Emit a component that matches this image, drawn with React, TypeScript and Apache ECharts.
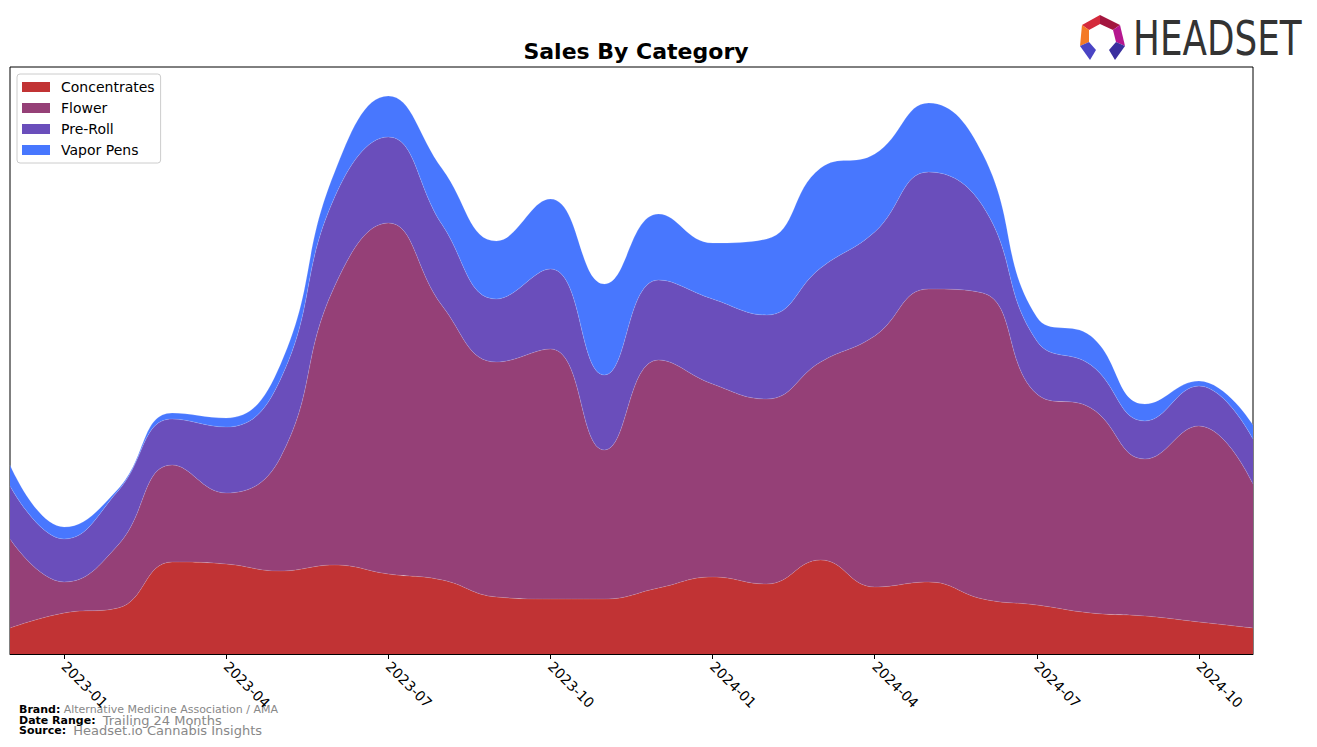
import React, { useEffect, useRef } from "react";
import * as echarts from "echarts";

const months = [
  "2022-12", "2023-01", "2023-02", "2023-03", "2023-04", "2023-05", "2023-06", "2023-07",
  "2023-08", "2023-09", "2023-10", "2023-11", "2023-12", "2024-01", "2024-02", "2024-03",
  "2024-04", "2024-05", "2024-06", "2024-07", "2024-08", "2024-09", "2024-10", "2024-11",
];
const concentrates = [26, 41, 46, 92, 90, 83, 89, 80, 74, 57, 55, 55, 66, 77, 70, 94, 67, 72, 55, 49, 41, 38, 32, 26];
const flower = [89, 31, 63, 97, 71, 113, 278, 351, 274, 235, 250, 149, 228, 193, 185, 198, 251, 293, 306, 211, 205, 157, 196, 144];
const preRoll = [53, 43, 54, 46, 66, 78, 89, 86, 81, 63, 80, 75, 80, 85, 84, 94, 104, 117, 87, 53, 43, 38, 40, 45];
const vaporPens = [21, 12, 2, 6, 9, 15, 25, 41, 56, 58, 70, 91, 66, 56, 76, 100, 78, 69, 52, 24, 29, 17, 5, 14];

const seriesNames = ["Concentrates", "Flower", "Pre-Roll", "Vapor Pens"];
const seriesColors = ["#C13334", "#954077", "#6A4EBB", "#4877FE"];
const seriesData = [concentrates, flower, preRoll, vaporPens];

const FONT = "'DejaVu Sans', sans-serif";

export default function App() {
  const ref = useRef<HTMLDivElement>(null);
  useEffect(() => {
    if (!ref.current) return;
    const chart = echarts.init(ref.current, null, { renderer: "svg" });
    const showIdx = (i: number) => i % 3 === 1;
    const footer = (y: number, label: string, value: string, vs: number) => ({
      type: "text",
      x: 19,
      y,
      style: {
        rich: {
          b: { fontFamily: FONT, fontSize: 11, fontWeight: "bold", fill: "#000" },
          v: { fontFamily: FONT, fontSize: vs, fill: "#888" },
        },
        text: `{b|${label}} {v|${value}}`,
        verticalAlign: "middle",
      },
    });
    chart.setOption({
      animation: false,
      backgroundColor: "#ffffff",
      title: {
        text: "Sales By Category",
        left: 631,
        textAlign: "center",
        top: 35,
        textStyle: { fontFamily: FONT, fontSize: 22, fontWeight: "bold", color: "#000" },
      },
      legend: {
        orient: "vertical",
        left: 17,
        top: 74,
        padding: [5, 6, 5, 5],
        itemGap: 5,
        itemWidth: 28,
        itemHeight: 10,
        icon: "rect",
        backgroundColor: "#fff",
        borderColor: "#cccccc",
        borderWidth: 1,
        borderRadius: 3,
        textStyle: { fontFamily: FONT, fontSize: 14, color: "#000", padding: [0, 0, 0, 6], lineHeight: 16 },
        data: seriesNames,
      },
      grid: {
        left: 10,
        top: 67,
        width: 1243,
        height: 587,
        show: true,
        borderColor: "#000",
        borderWidth: 1,
        backgroundColor: "transparent",
      },
      xAxis: {
        type: "category",
        data: months,
        boundaryGap: false,
        axisLine: { show: true, lineStyle: { color: "#000", width: 1 } },
        axisTick: { show: true, interval: (i: number) => showIdx(i), length: 5, lineStyle: { color: "#000" } },
        axisLabel: {
          interval: (i: number) => showIdx(i),
          rotate: -45,
          margin: 10,
          fontFamily: FONT,
          fontSize: 14,
          color: "#000",
        },
        splitLine: { show: false },
      },
      yAxis: {
        type: "value",
        min: 0,
        max: 587,
        show: false,
        splitLine: { show: false },
      },
      series: seriesNames.map((name, k) => ({
        name,
        type: "line",
        stack: "total",
        smooth: 0.45,
        showSymbol: false,
        symbol: "none",
        data: seriesData[k],
        itemStyle: { color: seriesColors[k] },
        lineStyle: { width: 0.6, color: "rgba(255,255,255,0.25)" },
        areaStyle: { color: seriesColors[k], opacity: 1 },
        z: 2,
      })),
      graphic: [
        { type: "polygon", shape: { points: [[1082, 25], [1100, 15], [1100, 24], [1089, 30]] }, style: { fill: "#D42A3C" } },
        { type: "polygon", shape: { points: [[1100, 15], [1120, 25], [1113, 30], [1100, 24]] }, style: { fill: "#A3163F" } },
        { type: "polygon", shape: { points: [[1082, 25], [1089, 30], [1089, 42], [1080, 46]] }, style: { fill: "#F47A25" } },
        { type: "polygon", shape: { points: [[1120, 25], [1125, 46], [1116, 42], [1113, 30]] }, style: { fill: "#B5178F" } },
        { type: "polygon", shape: { points: [[1080, 46], [1089, 42], [1096, 50], [1090, 60]] }, style: { fill: "#4A44C4" } },
        { type: "polygon", shape: { points: [[1125, 46], [1116, 42], [1109, 50], [1115, 60]] }, style: { fill: "#3A2F9E" } },
        {
          type: "text",
          x: 1133,
          y: 39,
          scaleX: 0.745,
          scaleY: 1,
          style: {
            text: "HEADSET",
            fontFamily: "'DejaVu Sans', sans-serif",
            fontSize: 48,
            fill: "#333333",
            verticalAlign: "middle",
            textAlign: "left",
          },
        },
        footer(709, "Brand:", "Alternative Medicine Association / AMA", 11),
        footer(720, "Date Range: ", "Trailing 24 Months", 13),
        footer(730, "Source: ", "Headset.io Cannabis Insights", 13),
      ],
    });
    return () => chart.dispose();
  }, []);
  return (
    <div
      ref={ref}
      style={{ position: "fixed", left: 0, top: 0, width: 1317, height: 747, background: "#fff" }}
    />
  );
}
